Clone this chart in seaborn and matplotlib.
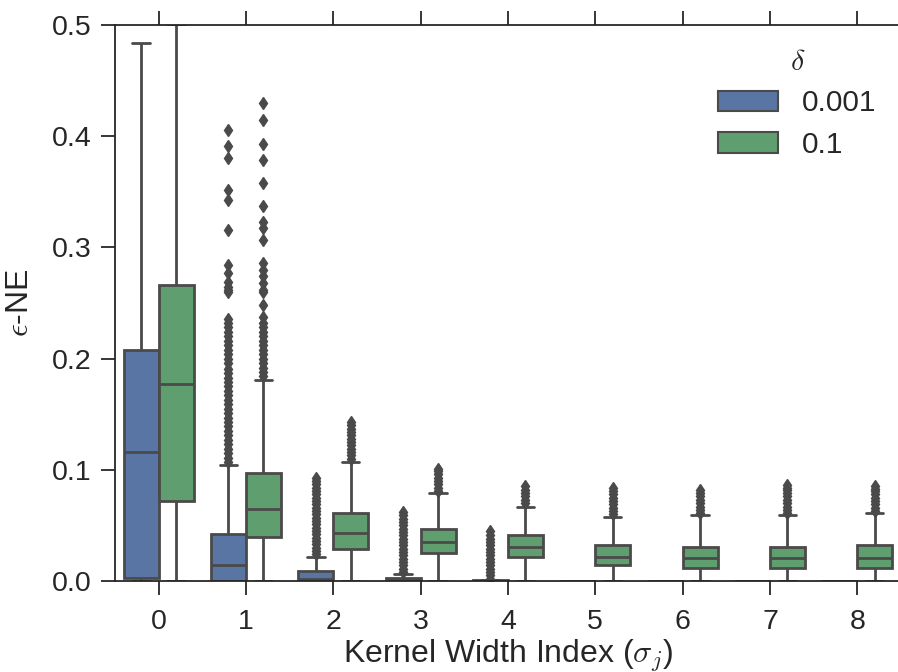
import numpy as np
import pandas as pd
import matplotlib.pyplot as plt
import seaborn as sns

sns.set_theme(style="ticks")
plt.rcParams.update({
    "font.family": ["Liberation Sans", "DejaVu Sans"],
    "mathtext.fontset": "cm",
    "xtick.direction": "out",
    "ytick.direction": "out",
})

# kernel width index (sigma_j) and delta levels
kernel_idx = [0, 1, 2, 3, 4, 5, 6, 7, 8]
deltas = ["0.001", "0.1"]

# box summaries: low whisker, q1, median, q3, high whisker
lo_001 = [0.0, 0.0, 0.0, 0.0, 0.0, 0.0, 0.0, 0.0, 0.0]
q1_001 = [0.003, 0.0, 0.0, 0.0, 0.0, 0.0, 0.0, 0.0, 0.0]
med_001 = [0.116, 0.014, 0.002, 0.0005, 0.0002, 0.0001, 0.0001, 0.0001, 0.0001]
q3_001 = [0.208, 0.042, 0.009, 0.003, 0.0006, 0.0003, 0.0003, 0.0003, 0.0003]
hi_001 = [0.484, 0.104, 0.022, 0.006, 0.0012, 0.0004, 0.0004, 0.0004, 0.0004]

lo_01 = [0.0, 0.0, 0.0, 0.0, 0.0, 0.0, 0.0, 0.0, 0.0]
q1_01 = [0.072, 0.040, 0.029, 0.025, 0.022, 0.014, 0.012, 0.012, 0.012]
med_01 = [0.177, 0.065, 0.043, 0.035, 0.031, 0.022, 0.021, 0.021, 0.021]
q3_01 = [0.266, 0.097, 0.061, 0.047, 0.041, 0.032, 0.031, 0.031, 0.032]
hi_01 = [0.501, 0.181, 0.107, 0.079, 0.067, 0.058, 0.059, 0.059, 0.061]

# outliers (fliers)
out_001 = [
    [],
    [0.107, 0.111, 0.115, 0.119, 0.123, 0.127, 0.131, 0.135, 0.139, 0.143,
     0.147, 0.151, 0.155, 0.159, 0.163, 0.167, 0.171, 0.175, 0.179, 0.183,
     0.187, 0.191, 0.196, 0.200, 0.204, 0.208, 0.212, 0.216, 0.220, 0.224,
     0.228, 0.232, 0.236, 0.260, 0.262, 0.264, 0.269, 0.277, 0.284, 0.316,
     0.343, 0.352, 0.380, 0.391, 0.406],
    [0.024, 0.027, 0.030, 0.033, 0.036, 0.039, 0.042, 0.045, 0.048, 0.051,
     0.054, 0.057, 0.060, 0.063, 0.066, 0.069, 0.072, 0.075, 0.078, 0.081,
     0.084, 0.087, 0.090, 0.093],
    [0.008, 0.011, 0.014, 0.017, 0.020, 0.023, 0.026, 0.029, 0.032, 0.035,
     0.038, 0.041, 0.044, 0.047, 0.050, 0.053, 0.056, 0.059, 0.062],
    [0.002, 0.005, 0.008, 0.011, 0.014, 0.017, 0.020, 0.023, 0.026, 0.029,
     0.032, 0.035, 0.038, 0.041, 0.045],
    [], [], [], [],
]
out_01 = [
    [],
    [0.184, 0.188, 0.192, 0.196, 0.200, 0.204, 0.208, 0.212, 0.216, 0.220,
     0.224, 0.228, 0.232, 0.237, 0.248, 0.260, 0.262, 0.268, 0.274, 0.280,
     0.286, 0.307, 0.317, 0.323, 0.337, 0.358, 0.379, 0.393, 0.415, 0.430],
    [0.110, 0.113, 0.116, 0.119, 0.122, 0.125, 0.128, 0.131, 0.134, 0.137,
     0.140, 0.143],
    [0.081, 0.084, 0.087, 0.090, 0.093, 0.096, 0.099, 0.101],
    [0.070, 0.073, 0.076, 0.079, 0.082, 0.085],
    [0.060, 0.063, 0.066, 0.069, 0.072, 0.075, 0.078, 0.081, 0.084],
    [0.061, 0.064, 0.067, 0.070, 0.073, 0.076, 0.079, 0.082],
    [0.061, 0.064, 0.067, 0.070, 0.073, 0.076, 0.079, 0.082, 0.084, 0.086],
    [0.063, 0.066, 0.069, 0.072, 0.075, 0.078, 0.081, 0.083, 0.085],
]


def sample_from_summary(lo, q1, med, q3, hi, outs):
    # rebuild a sample whose quartiles / whiskers match the read-off summary
    k = len(outs)
    a = k + 1
    b = a + 2
    return [lo] * a + [q1] * b + [med] + [q3] * b + [hi] + list(outs)


rows = []
for d, lo, q1, med, q3, hi, outs in [
    (deltas[0], lo_001, q1_001, med_001, q3_001, hi_001, out_001),
    (deltas[1], lo_01, q1_01, med_01, q3_01, hi_01, out_01),
]:
    for i, k in enumerate(kernel_idx):
        for v in sample_from_summary(lo[i], q1[i], med[i], q3[i], hi[i], outs[i]):
            rows.append({"idx": k, "delta": d, "value": v})
df = pd.DataFrame(rows)

line_c = "#4a4a4a"

fig = plt.figure(figsize=(8.98, 6.72), dpi=100)
ax = fig.add_axes([0.128, 0.1354, 0.8753, 0.8274])

sns.boxplot(
    data=df, x="idx", y="value", hue="delta", hue_order=deltas,
    palette=["#4C72B0", "#55A868"], linecolor=line_c, linewidth=2,
    fliersize=6.5, width=0.8, gap=0, whis=1.5, ax=ax,
    flierprops={"marker": "d", "markerfacecolor": line_c,
                "markeredgecolor": line_c},
)

ax.set_ylim(0, 0.5)
ax.set_xlim(-0.5, 8.5)
ax.set_yticks([0.0, 0.1, 0.2, 0.3, 0.4, 0.5])
ax.set_yticklabels(["0.0", "0.1", "0.2", "0.3", "0.4", "0.5"])
ax.tick_params(axis="both", which="major", labelsize=20.5, length=10, width=1.3,
               colors="#262626", top=True, right=True)
ax.tick_params(axis="x", pad=10)
ax.tick_params(axis="y", pad=7)
for s in ax.spines.values():
    s.set_linewidth(1.3)
    s.set_color("#262626")

ax.set_xlabel(r"Kernel Width Index ($\sigma_j$)", fontsize=23, color="#262626", labelpad=2)
ax.set_ylabel(r"$\epsilon$-NE", fontsize=23, color="#262626", labelpad=12)

leg = ax.legend(title=r"$\delta$", frameon=False, loc="upper right",
                bbox_to_anchor=(1.003, 1.007), fontsize=21.5, title_fontsize=21.5,
                labelspacing=0.45)
for h in leg.get_patches():
    h.set_linewidth(1.5)

fig.savefig("out.png", dpi=100)
